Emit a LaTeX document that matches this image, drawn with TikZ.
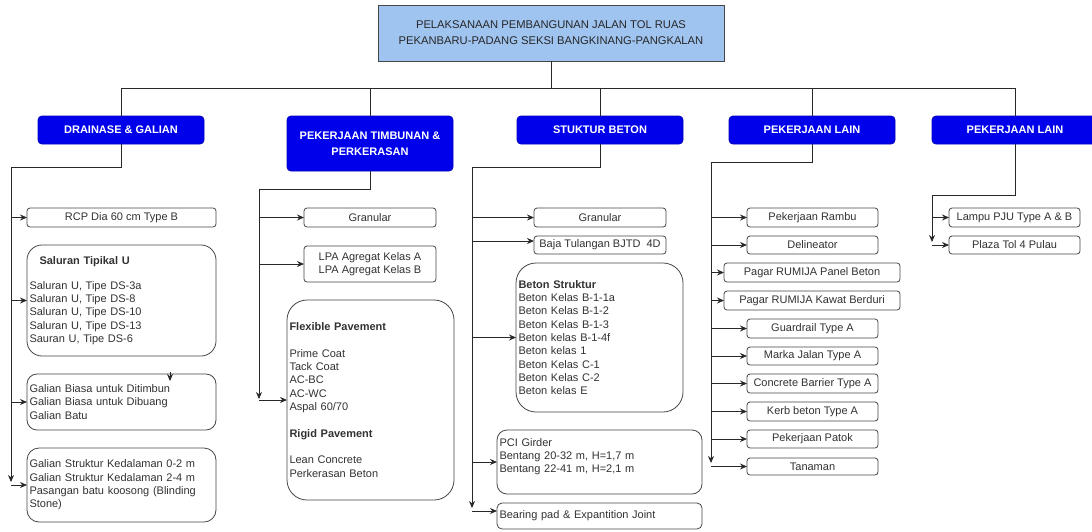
\documentclass[tikz,border=0pt]{standalone}
\usepackage{fontspec}
\setmainfont{Liberation Sans}
\usetikzlibrary{arrows.meta}
\definecolor{ttlblue}{RGB}{160,196,240}
\definecolor{hdrblue}{RGB}{0,0,235}
\definecolor{lncol}{RGB}{40,40,40}
\definecolor{bdcol}{RGB}{70,70,70}
\definecolor{txcol}{RGB}{50,50,50}
\tikzset{
  base/.style={draw=bdcol, line width=0.8pt, inner sep=0pt, outer sep=0pt, text=txcol,
    font=\fontsize{11}{13.3}\selectfont},
  sbox/.style={base, rounded corners=3pt, align=center},
  lbox/.style={base, align=left, text width=\tw pt, rounded corners=#1},
  hdrbox/.style={fill=hdrblue, draw=hdrblue!80!black, rounded corners=4pt, text=white,
    font=\bfseries\fontsize{11}{15.5}\selectfont, align=center, inner sep=0pt, outer sep=0pt, line width=0.8pt},
  ttlbox/.style={fill=ttlblue, draw=bdcol, line width=0.8pt, text=black!85, align=center,
    font=\fontsize{11.2}{16}\selectfont, inner sep=0pt, outer sep=0pt},
  conn/.style={draw=lncol, line width=0.8pt},
  arr/.style={conn, -{Stealth[length=7pt,width=6pt]}},
}
\newcommand\mkbox[7]{%
  \pgfmathsetmacro\bw{#4-#2}\pgfmathsetmacro\bh{#5-#3}\pgfmathsetmacro\tw{#4-#2-5}%
  \node[#6, anchor=north west, minimum width=\bw pt, minimum height=\bh pt] (#1) at (#2,#3) {#7};}
\begin{document}
\begin{tikzpicture}[x=1pt,y=-1pt]
\useasboundingbox (0,0) rectangle (1092,531);
\fill[white] (0,0) rectangle (1092,531);
% title
\mkbox{title}{378}{5}{724}{61}{ttlbox}{PELAKSANAAN PEMBANGUNAN JALAN TOL RUAS\\PEKANBARU-PADANG SEKSI BANGKINANG-PANGKALAN}
% headers
\mkbox{h1}{38}{116}{204}{144}{hdrbox}{DRAINASE \& GALIAN}
\mkbox{h2}{287}{116}{453}{171}{hdrbox}{PEKERJAAN TIMBUNAN \&\\PERKERASAN}
\mkbox{h3}{517}{116}{683}{144}{hdrbox}{STUKTUR BETON}
\mkbox{h4}{729}{116}{895}{144}{hdrbox}{PEKERJAAN LAIN}
\mkbox{h5}{932}{116}{1098}{144}{hdrbox}{PEKERJAAN LAIN}
% bus
\coordinate (bus) at (0,88);
\draw[conn] (title.south) -- (title.south |- bus);
\draw[conn] (h1.north |- bus) -- (h5.north |- bus);
\foreach \h in {h1,h2,h3,h4,h5} \draw[conn] (\h.north) -- (\h.north |- bus);
% column 1
\mkbox{rcp}{27}{208}{216}{227}{sbox}{RCP Dia 60 cm Type B}
\mkbox{sal}{27}{245}{216}{356}{lbox=15pt}{\hspace*{10pt}\textbf{Saluran Tipikal U}\\[11.5pt]Saluran U, Tipe DS-3a\\Saluran U, Tipe DS-8\\Saluran U, Tipe DS-10\\Saluran U, Tipe DS-13\\Sauran U, Tipe DS-6}
\mkbox{gb}{27}{374}{216}{430}{lbox=10pt}{Galian Biasa untuk Ditimbun\\Galian Biasa untuk Dibuang\\Galian Batu}
\mkbox{gs}{27}{448}{216}{522}{lbox=12pt}{Galian Struktur Kedalaman 0-2 m\\Galian Struktur Kedalaman 2-4 m\\Pasangan batu koosong (Blinding\\Stone)}
\coordinate (c1) at (11,167);
\coordinate (e1) at (11,482);
\draw[conn] (h1.south) |- (c1);
\draw[arr] (c1) -- (e1);
\foreach \b in {rcp,sal,gb,gs} \draw[arr] (c1 |- \b.west) -- (\b.west);
\coordinate (s1) at (170,372);
\coordinate (s2) at (170,381);
\draw[arr] (s1) -- (s2);
% column 2
\mkbox{gran2}{304}{208}{436}{227}{sbox}{Granular}
\mkbox{lpa}{304}{246}{436}{282}{sbox}{LPA Agregat Kelas A\\LPA Agregat Kelas B}
\mkbox{flex}{287}{300}{454}{500}{lbox=20pt}{\textbf{Flexible Pavement}\\[13.3pt]Prime Coat\\Tack Coat\\AC-BC\\AC-WC\\Aspal 60/70\\[13.3pt]\textbf{Rigid Pavement}\\[13.3pt]Lean Concrete\\Perkerasan Beton}
\coordinate (c2) at (259,189);
\coordinate (e2) at (259,399);
\draw[conn] (h2.south) |- (c2);
\draw[arr] (c2) -- (e2);
\foreach \b in {gran2,lpa,flex} \draw[arr] (c2 |- \b.west) -- (\b.west);
% column 3
\mkbox{gran3}{534}{208}{666}{227}{sbox}{Granular}
\mkbox{baja}{534}{236}{666}{254}{sbox}{Baja Tulangan BJTD\ \ 4D}
\mkbox{bs}{516}{263}{683}{412}{lbox=20pt}{\textbf{Beton Struktur}\\Beton Kelas B-1-1a\\Beton Kelas B-1-2\\Beton Kelas B-1-3\\Beton kelas B-1-4f\\Beton kelas 1\\Beton Kelas C-1\\Beton Kelas C-2\\Beton kelas E}
\mkbox{pci}{497}{430}{702}{494}{lbox=10pt}{PCI Girder\\Bentang 20-32 m, H=1,7 m\\Bentang 22-41 m, H=2,1 m\\\mbox{}}
\mkbox{bear}{497}{503}{702}{529}{lbox=5pt}{Bearing pad \& Expantition Joint}
\coordinate (c3) at (472,167);
\coordinate (e3) at (472,508);
\coordinate (bajain) at ([yshift=4pt]baja.west);
\coordinate (bearin) at ([yshift=5pt]bear.west);
\draw[conn] (h3.south) |- (c3);
\draw[arr] (c3) -- (e3);
\foreach \b in {gran3,bs,pci} \draw[arr] (c3 |- \b.west) -- (\b.west);
\draw[arr] (c3 |- bajain) -- (bajain);
\draw[arr] (c3 |- bearin) -- (bearin);
% column 4
\mkbox{rambu}{747}{208}{878}{227}{sbox}{Pekerjaan Rambu}
\mkbox{deli}{747}{236}{878}{254}{sbox}{Delineator}
\mkbox{ppb}{724}{263}{900}{282}{sbox}{Pagar RUMIJA Panel Beton}
\mkbox{pkb}{724}{291}{900}{310}{sbox}{Pagar RUMIJA Kawat Berduri}
\mkbox{guard}{747}{319}{878}{338}{sbox}{Guardrail Type A}
\mkbox{marka}{747}{347}{878}{365}{sbox}{Marka Jalan Type A}
\mkbox{cbar}{747}{374}{878}{393}{sbox}{Concrete Barrier Type A}
\mkbox{kerb}{747}{402}{878}{421}{sbox}{Kerb beton Type A}
\mkbox{patok}{747}{430}{878}{448}{sbox}{Pekerjaan Patok}
\mkbox{tanam}{747}{458}{878}{475}{sbox}{Tanaman}
\coordinate (c4) at (711,162);
\coordinate (e4) at (711,463);
\draw[conn] (h4.south) |- (c4);
\draw[arr] (c4) -- (e4);
\foreach \b in {rambu,deli,ppb,pkb,guard,marka,cbar,kerb,patok,tanam} \draw[arr] (c4 |- \b.west) -- (\b.west);
% column 5
\mkbox{lampu}{949}{208}{1080}{227}{sbox}{Lampu PJU Type A \& B}
\mkbox{plaza}{949}{236}{1080}{254}{sbox}{Plaza Tol 4 Pulau}
\coordinate (c5) at (932,195);
\coordinate (e5) at (932,242);
\draw[conn] (h5.south) |- (c5);
\draw[arr] (c5) -- (e5);
\foreach \b in {lampu,plaza} \draw[arr] (c5 |- \b.west) -- (\b.west);
\end{tikzpicture}
\end{document}
